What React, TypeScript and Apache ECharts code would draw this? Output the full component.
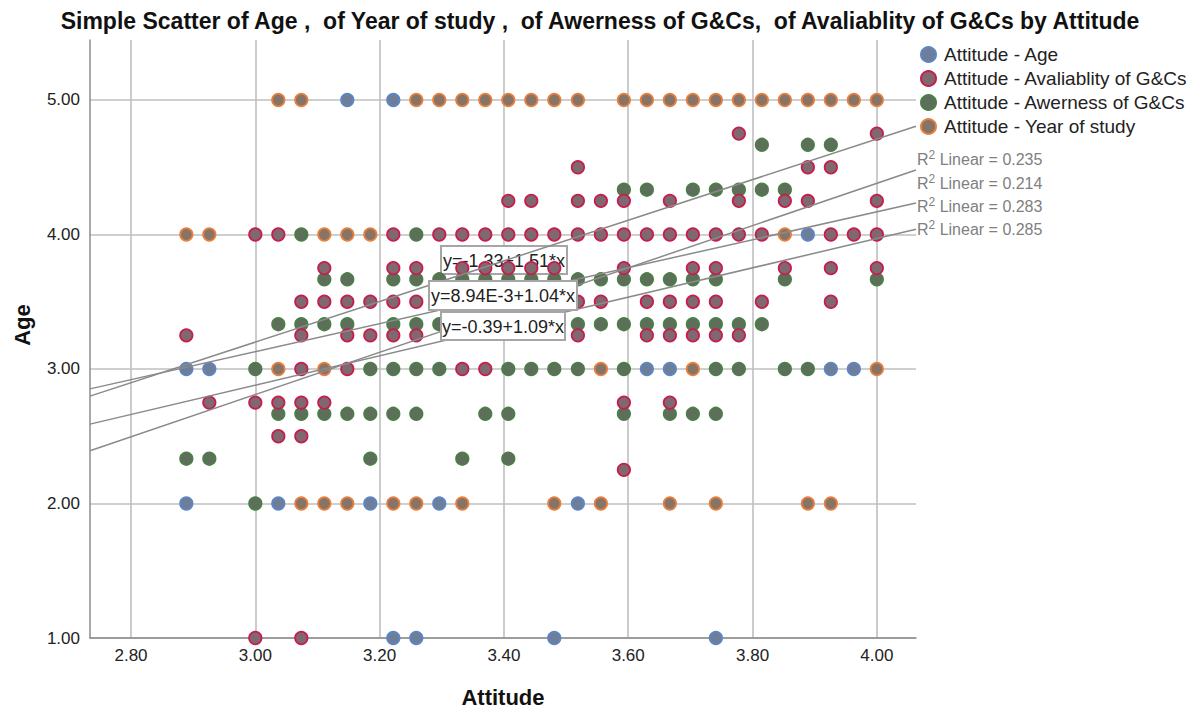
import React, { useEffect, useRef } from "react";
import * as echarts from "echarts";

const FONT = "'Liberation Sans', Arial, Helvetica, sans-serif";

// Series names
const NAME_AGE = "Attitude - Age";
const NAME_AVAIL = "Attitude - Avaliablity of G&Cs";
const NAME_AWARE = "Attitude - Awerness of G&Cs";
const NAME_YEAR = "Attitude - Year of study";

// Rows: [y value, Attitude values]
const ageRows: [number, number[]][] = [
  [5, [3.148, 3.222]],
  [4, [3.889]],
  [3, [2.889, 2.926, 3.63, 3.667, 3.926, 3.963]],
  [2, [2.889, 3.037, 3.185, 3.296, 3.519]],
  [1, [3.222, 3.259, 3.481, 3.741]],
];

const yearRows: [number, number[]][] = [
  [5, [3.037, 3.074, 3.259, 3.296, 3.333, 3.37, 3.407, 3.444, 3.481, 3.519, 3.593, 3.63, 3.667, 3.704, 3.741, 3.778, 3.815, 3.852, 3.889, 3.926, 3.963, 4.0]],
  [4, [2.889, 2.926, 3.111, 3.148, 3.185, 3.852]],
  [3, [3.037, 3.111, 3.556, 3.704, 4.0]],
  [2, [3.074, 3.111, 3.148, 3.222, 3.259, 3.333, 3.481, 3.556, 3.667, 3.741, 3.889, 3.926]],
];

const awareRows: [number, number[]][] = [
  [4.667, [3.815, 3.889, 3.926]],
  [4.333, [3.593, 3.63, 3.704, 3.741, 3.778, 3.815, 3.852]],
  [4, [3.074, 3.259]],
  [3.667, [3.111, 3.148, 3.222, 3.259, 3.296, 3.333, 3.37, 3.407, 3.444, 3.481, 3.519, 3.556, 3.593, 3.63, 3.667, 3.704, 3.741, 3.852, 4.0]],
  [3.333, [3.037, 3.074, 3.111, 3.148, 3.222, 3.259, 3.296, 3.519, 3.556, 3.593, 3.63, 3.667, 3.704, 3.741, 3.778, 3.815]],
  [3, [3.0, 3.185, 3.222, 3.259, 3.296, 3.407, 3.444, 3.481, 3.519, 3.593, 3.741, 3.778, 3.852, 3.889]],
  [2.667, [3.037, 3.074, 3.111, 3.148, 3.185, 3.222, 3.259, 3.37, 3.407, 3.593, 3.667, 3.704, 3.741]],
  [2.333, [2.889, 2.926, 3.185, 3.333, 3.407]],
  [2, [3.0]],
];

const availRows: [number, number[]][] = [
  [4.75, [3.778, 4.0]],
  [4.5, [3.519, 3.889, 3.926]],
  [4.25, [3.407, 3.444, 3.519, 3.556, 3.593, 3.667, 3.778, 3.852, 3.889, 4.0]],
  [4, [3.0, 3.037, 3.222, 3.296, 3.333, 3.37, 3.407, 3.444, 3.481, 3.519, 3.556, 3.593, 3.63, 3.667, 3.704, 3.741, 3.778, 3.815, 3.926, 3.963, 4.0]],
  [3.75, [3.111, 3.222, 3.259, 3.333, 3.37, 3.407, 3.444, 3.481, 3.593, 3.704, 3.741, 3.852, 3.926, 4.0]],
  [3.5, [3.074, 3.111, 3.148, 3.185, 3.222, 3.259, 3.519, 3.556, 3.63, 3.667, 3.704, 3.741, 3.815, 3.926]],
  [3.25, [2.889, 3.074, 3.148, 3.185, 3.222, 3.259, 3.519, 3.63, 3.667, 3.704, 3.741, 3.778]],
  [3, [3.074, 3.148, 3.333, 3.37]],
  [2.75, [2.926, 3.0, 3.037, 3.074, 3.111, 3.593, 3.667]],
  [2.5, [3.037, 3.074]],
  [2.25, [3.593]],
  [1, [3.0, 3.074]],
];

// Linear fits: y = a + b*x
const fitIntercepts = [-1.33, -1.9, 0.00894, -0.39];
const fitSlopes = [1.51, 1.57, 1.04, 1.09];
const r2Values = ["0.235", "0.214", "0.283", "0.285"];
const equationTexts = ["y=-1.33+1.51*x", "y=8.94E-3+1.04*x", "y=-0.39+1.09*x"];

const X_MIN = 2.734;
const X_MAX = 4.063;
const Y_MIN = 1;
const Y_MAX = 5.446;

const toPairs = (rows: [number, number[]][]) => {
  const out: number[][] = [];
  rows.forEach(([y, xs]) => xs.forEach((x) => out.push([x, y])));
  return out;
};

export default function App() {
  const ref = useRef<HTMLDivElement>(null);

  useEffect(() => {
    const chart = echarts.init(ref.current!, null, { renderer: "svg" });

    const scatter = (name: string, rows: [number, number[]][], fill: string, border: string) => ({
      type: "scatter",
      name,
      data: toPairs(rows),
      symbol: "circle",
      symbolSize: 12.5,
      itemStyle: { color: fill, borderColor: border, borderWidth: 1.7, opacity: 1 },
      emphasis: { disabled: true },
      z: 3,
    });

    const lines = fitIntercepts.map((a, i) => ({
      type: "line",
      name: "fit" + i,
      data: [
        [X_MIN, a + fitSlopes[i] * X_MIN],
        [X_MAX, a + fitSlopes[i] * X_MAX],
      ],
      symbol: "none",
      silent: true,
      lineStyle: { color: "#8a8a8a", width: 1.5 },
      z: 4,
    }));

    const eqStyle = (t: string) => ({
      text: t,
      fill: "#222",
      fontSize: 18,
      fontFamily: FONT,
      align: "center",
      verticalAlign: "middle",
    });

    const graphics: any[] = [
      // equation box 1 (beneath the points)
      {
        type: "rect",
        shape: { x: 441, y: 246, width: 126, height: 28 },
        style: { fill: "#fff", stroke: "#a6a6a6", lineWidth: 2 },
        z: 1,
      },
      { type: "text", x: 504, y: 261, style: eqStyle(equationTexts[0]), z: 1 },
      {
        type: "rect",
        shape: { x: 429, y: 281, width: 148, height: 29 },
        style: { fill: "#fff", stroke: "#a6a6a6", lineWidth: 2 },
        z: 10,
      },
      { type: "text", x: 503, y: 296, style: eqStyle(equationTexts[1]), z: 11 },
      {
        type: "rect",
        shape: { x: 441, y: 312, width: 124, height: 28 },
        style: { fill: "#fff", stroke: "#a6a6a6", lineWidth: 2 },
        z: 10,
      },
      { type: "text", x: 503, y: 327, style: eqStyle(equationTexts[2]), z: 11 },
      // axis titles
      {
        type: "text",
        x: 22,
        y: 325,
        rotation: Math.PI / 2,
        style: { text: "Age", fill: "#111", fontSize: 22, fontWeight: "bold", fontFamily: FONT, align: "center", verticalAlign: "middle" },
      },
      {
        type: "text",
        x: 503,
        y: 697,
        style: { text: "Attitude", fill: "#111", fontSize: 22, fontWeight: "bold", fontFamily: FONT, align: "center", verticalAlign: "middle" },
      },
    ];
    const r2Y = [158, 182, 205, 228];
    r2Values.forEach((v, i) => {
      graphics.push({
        type: "text",
        x: 917,
        y: r2Y[i],
        style: {
          text: "{r|R}{s|2}{r| Linear = " + v + "}",
          fontFamily: FONT,
          align: "left",
          verticalAlign: "middle",
          rich: {
            r: { fontSize: 16, fill: "#808080", fontFamily: FONT, lineHeight: 18, verticalAlign: "bottom" },
            s: { fontSize: 12, fill: "#808080", fontFamily: FONT, lineHeight: 18, verticalAlign: "top" },
          },
        },
      });
    });

    chart.setOption({
      animation: false,
      backgroundColor: "#ffffff",
      textStyle: { fontFamily: FONT },
      title: {
        text: "Simple Scatter of Age ,  of Year of study ,  of Awerness of G&Cs,  of Avaliablity of G&Cs by Attitude",
        left: "center",
        top: 4,
        textStyle: { fontSize: 23, fontWeight: "bold", color: "#111", fontFamily: FONT },
      },
      legend: {
        orient: "vertical",
        left: 915,
        top: 40,
        itemWidth: 15,
        itemHeight: 15,
        itemGap: 5,
        icon: "circle",
        data: [NAME_AGE, NAME_AVAIL, NAME_AWARE, NAME_YEAR],
        textStyle: { fontSize: 19, color: "#222", fontFamily: FONT, padding: [0, 0, 0, 3] },
        selectedMode: false,
      },
      grid: { left: 90, right: 284, top: 40, bottom: 70, containLabel: false },
      xAxis: {
        type: "value",
        min: X_MIN,
        max: X_MAX,
        splitNumber: 7,
        axisLine: { show: true, onZero: false, lineStyle: { color: "#8c8c8c", width: 1.5 } },
        axisTick: { show: false },
        axisLabel: {
          fontSize: 17,
          color: "#222",
          margin: 9,
          fontFamily: FONT,
          formatter: (v: number) => (Math.abs(v * 5 - Math.round(v * 5)) < 1e-6 ? v.toFixed(2) : ""),
        },
        splitLine: { show: true, showMinLine: false, showMaxLine: false, lineStyle: { color: "#bfbfbf", width: 1.6 } },
      },
      yAxis: {
        type: "value",
        min: Y_MIN,
        max: Y_MAX,
        interval: 1,
        axisLine: { show: true, onZero: false, lineStyle: { color: "#8c8c8c", width: 1.5 } },
        axisTick: { show: false },
        axisLabel: {
          fontSize: 17,
          color: "#222",
          margin: 10,
          fontFamily: FONT,
          formatter: (v: number) => (Math.abs(v - Math.round(v)) < 1e-6 ? v.toFixed(2) : ""),
        },
        splitLine: { show: true, showMaxLine: false, lineStyle: { color: "#bfbfbf", width: 1.6 } },
      },
      series: [
        scatter(NAME_AGE, ageRows, "#6e7e98", "#5c86c8"),
        scatter(NAME_AWARE, awareRows, "#5d6f5a", "#4c7e47"),
        scatter(NAME_AVAIL, availRows, "#7f686f", "#c81c4c"),
        scatter(NAME_YEAR, yearRows, "#887466", "#e9803e"),
        ...lines,
      ],
      graphic: graphics,
    });

    return () => chart.dispose();
  }, []);

  return (
    <div
      ref={ref}
      style={{ position: "fixed", left: 0, top: 0, width: 1200, height: 708, background: "#fff" }}
    />
  );
}
